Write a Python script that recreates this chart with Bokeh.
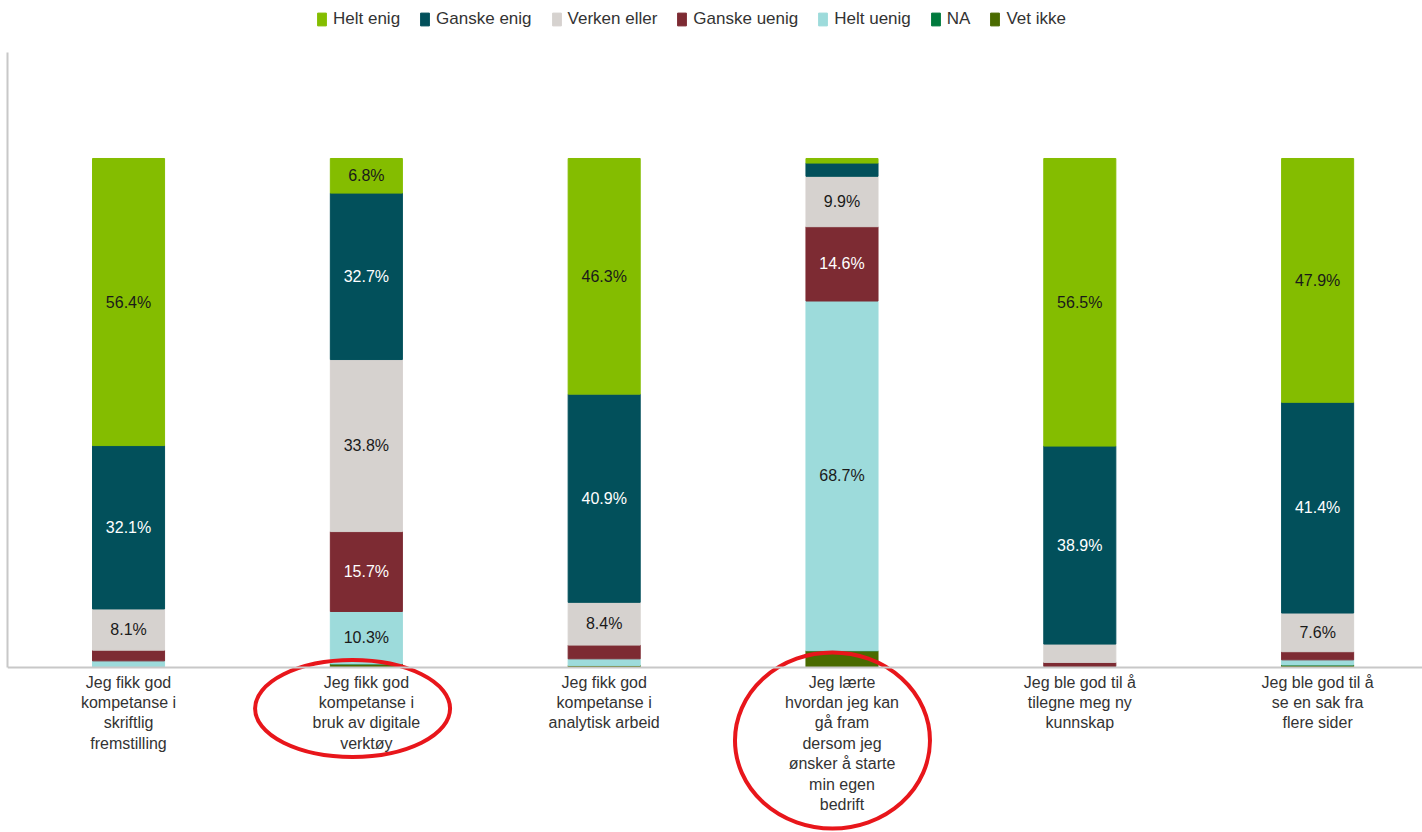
from bokeh.plotting import figure
from bokeh.models import ColumnDataSource, Range1d, FactorRange, Legend, LegendItem, Span, FixedTicker
from bokeh.transform import dodge
from bokeh.core.properties import value
from bokeh.embed import file_html
from bokeh.resources import INLINE

categories = [
    "Jeg fikk god\nkompetanse i\nskriftlig\nfremstilling",
    "Jeg fikk god\nkompetanse i\nbruk av digitale\nverktøy",
    "Jeg fikk god\nkompetanse i\nanalytisk arbeid",
    "Jeg lærte\nhvordan jeg kan\ngå fram\ndersom jeg\nønsker å starte\nmin egen\nbedrift",
    "Jeg ble god til å\ntilegne meg ny\nkunnskap",
    "Jeg ble god til å\nse en sak fra\nflere sider",
]

series_names = ["Helt enig", "Ganske enig", "Verken eller", "Ganske uenig", "Helt uenig", "NA", "Vet ikke"]
helt_enig = [56.4, 6.8, 46.3, 0.9, 56.5, 47.9]
ganske_enig = [32.1, 32.7, 40.9, 2.6, 38.9, 41.4]
verken_eller = [8.1, 33.8, 8.4, 9.9, 3.6, 7.6]
ganske_uenig = [2.1, 15.7, 2.7, 14.6, 0.8, 1.6]
helt_uenig = [1.3, 10.3, 1.3, 68.7, 0.2, 1.0]
na = [0.0, 0.0, 0.0, 0.0, 0.0, 0.0]
vet_ikke = [0.0, 0.7, 0.4, 3.3, 0.0, 0.5]

# styles
colors = {
    "Helt enig": "#84bd00",
    "Ganske enig": "#02505b",
    "Verken eller": "#d6d2cf",
    "Ganske uenig": "#7d2b33",
    "Helt uenig": "#9ddbdb",
    "NA": "#007a3d",
    "Vet ikke": "#4a6b00",
}
label_colors = {
    "Helt enig": "#1a1a1a",
    "Ganske enig": "#ffffff",
    "Verken eller": "#1a1a1a",
    "Ganske uenig": "#ffffff",
    "Helt uenig": "#1a1a1a",
    "NA": "#ffffff",
    "Vet ikke": "#ffffff",
}
FONT = "Liberation Sans"
X_SHIFT = 0.034

series_values = {
    "Helt enig": helt_enig,
    "Ganske enig": ganske_enig,
    "Verken eller": verken_eller,
    "Ganske uenig": ganske_uenig,
    "Helt uenig": helt_uenig,
    "NA": na,
    "Vet ikke": vet_ikke,
}
stack_order = ["Vet ikke", "NA", "Helt uenig", "Ganske uenig", "Verken eller", "Ganske enig", "Helt enig"]
keys = {n: "s%d" % i for i, n in enumerate(series_names)}

data = {"cat": categories}
for n in series_names:
    data[keys[n]] = series_values[n]
source = ColumnDataSource(data)

p = figure(
    width=1422, height=832,
    x_range=FactorRange(factors=categories, range_padding=-0.025, range_padding_units="absolute"),
    y_range=Range1d(-32.42, 131.04),
    output_backend="svg", toolbar_location=None,
    min_border_left=7, min_border_right=0, min_border_top=0, min_border_bottom=0,
)
p.outline_line_color = None
p.xgrid.visible = False
p.ygrid.visible = False
p.xaxis.visible = False
p.yaxis.ticker = FixedTicker(ticks=[])
p.yaxis.minor_tick_line_color = None
p.yaxis.major_tick_line_color = None
p.yaxis.bounds = (0, 120.8)
p.yaxis.axis_line_color = "#c8c8c8"
p.yaxis.axis_line_width = 2
p.background_fill_color = "white"
p.border_fill_color = "white"

renderers = p.vbar_stack(
    [keys[n] for n in stack_order],
    x=dodge("cat", X_SHIFT, range=p.x_range),
    width=0.303,
    color=[colors[n] for n in stack_order],
    source=source,
)
rmap = dict(zip(stack_order, renderers))

p.add_layout(Span(location=0, dimension="width", line_color="#c8c8c8", line_width=2))

# segment labels
lx, ly, lt, lc = [], [], [], []
for i, c in enumerate(categories):
    base = 0.0
    for n in stack_order:
        v = series_values[n][i]
        if v >= 5:
            lx.append(c)
            ly.append(base + v / 2)
            lt.append("%.1f%%" % v)
            lc.append(label_colors[n])
        base += v
lab_src = ColumnDataSource(dict(x=lx, y=ly, t=lt, c=lc))
p.text(x=dodge("x", X_SHIFT, range=p.x_range), y="y", text="t", text_color="c", source=lab_src,
       text_align="center", text_baseline="middle", text_font=value(FONT), text_font_size="16px")

# category labels
cat_src = ColumnDataSource(dict(x=categories, y=[-1.2] * len(categories), t=categories))
p.text(x=dodge("x", X_SHIFT, range=p.x_range), y="y", text="t", source=cat_src,
       text_align="center", text_baseline="top", text_font=value(FONT), text_font_size="16px",
       text_color="#333333", text_line_height=1.2)

# hand-drawn highlight ellipses
p.ellipse(x=dodge("x", -0.024, range=p.x_range), y="y", width=195, height=97,
          width_units="screen", height_units="screen",
          source=ColumnDataSource(dict(x=[categories[1]], y=[-8.06])),
          fill_color=None, line_color="#e8161b", line_width=4)
p.ellipse(x=dodge("x", -0.006, range=p.x_range), y="y", width=195, height=176,
          width_units="screen", height_units="screen",
          source=ColumnDataSource(dict(x=[categories[3]], y=[-14.34])),
          fill_color=None, line_color="#e8161b", line_width=4)

legend = Legend(
    items=[LegendItem(label=n, renderers=[rmap[n]]) for n in series_names],
    orientation="horizontal",
    location=(309, 803),
    glyph_width=11, glyph_height=16,
    label_standoff=6, spacing=19, padding=0, margin=0,
    label_height=16,
    label_text_font=FONT, label_text_font_size="17px", label_text_color="#333333",
    background_fill_alpha=0, border_line_color=None,
)
p.add_layout(legend)

open("out.html", "w").write(file_html(p, INLINE))
